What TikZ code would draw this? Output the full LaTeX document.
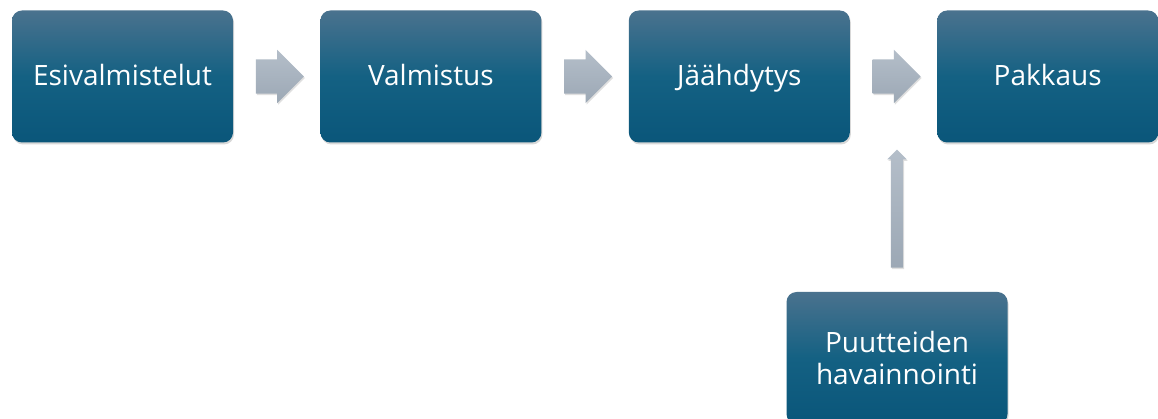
\documentclass[tikz,border=0pt]{standalone}
\usepackage{fontspec}
\setmainfont{Open Sans}
\usetikzlibrary{positioning}
\usetikzlibrary{shapes.arrows}
\usetikzlibrary{shadows}
\usetikzlibrary{calc}

\definecolor{boxtop}{RGB}{74,114,142}
\definecolor{boxmid}{RGB}{20,97,131}
\definecolor{boxbot}{RGB}{10,86,122}
\definecolor{arrtop}{RGB}{180,190,201}
\definecolor{arrbot}{RGB}{156,168,181}

\tikzset{
  stepbox/.style={rectangle,rounded corners=10pt,minimum width=221pt,minimum height=132pt,
    top color=boxtop,bottom color=boxbot,middle color=boxmid,text=white,align=center,
    font=\fontsize{28}{32}\selectfont,
    drop shadow={shadow xshift=1pt,shadow yshift=-2pt,opacity=0.3}},
  oneline/.style={text height=22pt,text depth=4pt},
  flowarrow/.style={single arrow,inner xsep=0pt,single arrow head indent=0pt,
    top color=arrtop,bottom color=arrbot,
    drop shadow={shadow xshift=1pt,shadow yshift=-1.5pt,opacity=0.25}},
  sidearrow/.style={flowarrow,minimum height=48pt,minimum width=53pt,inner ysep=17pt,
    single arrow head extend=9.5pt}
}

\begin{document}
\begin{tikzpicture}[x=1pt,y=-1pt,node distance=87pt]
            \path[use as bounding box,fill=white](0,0)rectangle(1158,419);
            \clip(0,0)rectangle(1158,419);

            \node[stepbox,oneline](esi)at(122.5,76.5){Esivalmistelut};
            \node[stepbox,oneline,right=of esi](val){Valmistus};
            \node[stepbox,oneline,right=of val](jaa){Jäähdytys};
            \node[stepbox,oneline,right=of jaa](pak){Pakkaus};
            \node[stepbox](puu)at(897,358){Puutteiden\\havainnointi};

            \node[sidearrow](a1)at($(esi.east)!0.5!(val.west)+(-5.5,0)$){};
            \node[sidearrow](a2)at($(val.east)!0.5!(jaa.west)+(-5.5,0)$){};
            \node[sidearrow](a3)at($(jaa.east)!0.5!(pak.west)+(-5.5,0)$){};

            \node[flowarrow,shape border rotate=90,minimum height=118pt,minimum width=19pt,
              inner sep=6pt,single arrow head extend=3.5pt,above=24pt of puu](a4){};
        \end{tikzpicture}
\end{document}
